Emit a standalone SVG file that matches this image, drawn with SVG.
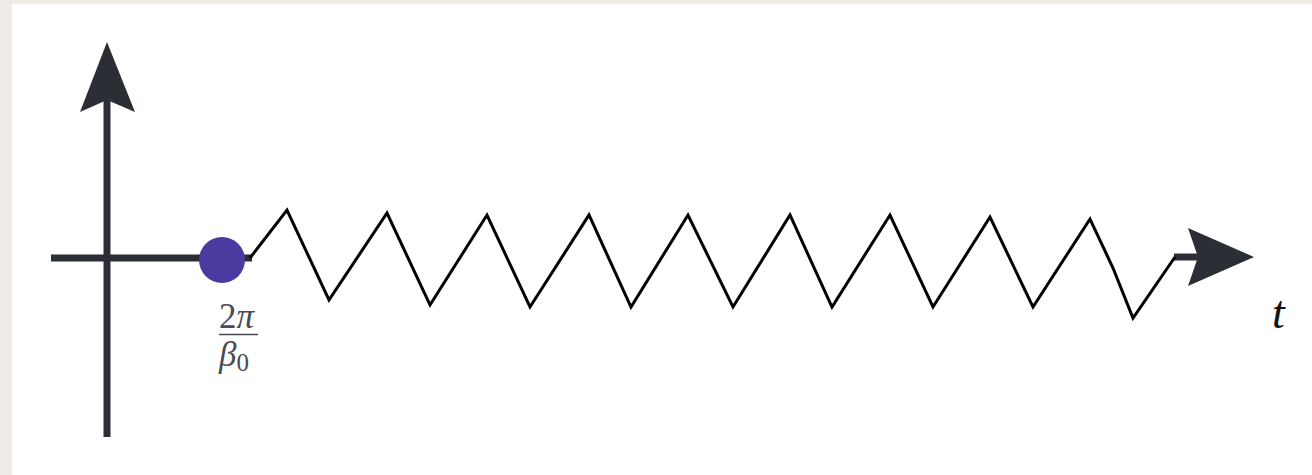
<svg xmlns="http://www.w3.org/2000/svg" width="1312" height="475" viewBox="0 0 1312 475">
<style>
.axis{stroke:#2b2e35;stroke-width:7;fill:none}
.head{fill:#2b2e35}
.zig{stroke:#000;stroke-width:3;fill:none;stroke-linejoin:miter}
.lbl{font-family:"Liberation Serif","DejaVu Serif",serif;fill:#4a4a55}
.t{font-family:"Liberation Serif","DejaVu Serif",serif;font-style:italic;fill:#111;font-size:46px}
</style>
<rect x="0" y="0" width="1312" height="475" fill="#eeece4"/>
<rect x="12" y="4" width="1300" height="471" fill="#ffffff"/>
<g id="axes">
<line class="axis" x1="107" y1="437" x2="107" y2="100"/>
<polygon class="head" points="107,42 135,112 107,100 80,112"/>
<line class="axis" x1="51" y1="258" x2="252" y2="258"/>
<line class="axis" x1="1174" y1="257" x2="1200" y2="257"/>
<polygon class="head" points="1254,257 1188,228 1198,257 1188,286"/>
</g>
<g id="connectors">
<polyline class="zig" points="250,258 287,210 329,300 387,213 430,305 487,215 530,307 589,215 631,307 688,215 733,307 790,215 832,307 890,215 933,307 990,217 1033,307 1090,219 1113,268 1133,318 1175,257"/>
</g>
<g id="dot">
<circle cx="222" cy="260" r="23" fill="#4a3a9f"/>
</g>
<g id="label">
<text class="lbl" x="219" y="328" font-size="35">2<tspan font-style="italic">π</tspan></text>
<line x1="219" y1="334.5" x2="258" y2="334.5" stroke="#4a4a55" stroke-width="1.6"/>
<text class="lbl" x="219" y="366" font-size="35"><tspan font-style="italic">β</tspan><tspan font-size="25" dy="5">0</tspan></text>
</g>
<g id="tlabel">
<text class="t" x="1272" y="328">t</text>
</g>
</svg>
